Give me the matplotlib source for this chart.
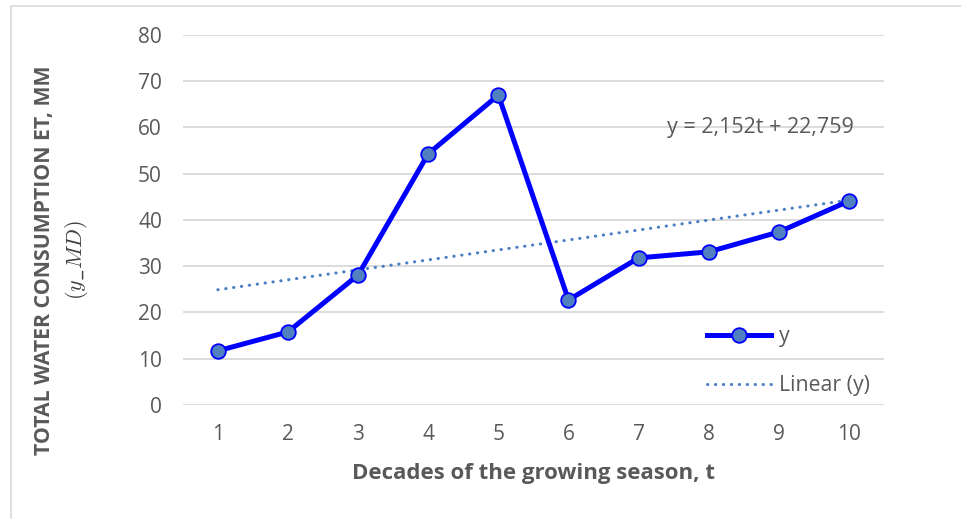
import numpy as np
import matplotlib
matplotlib.use("Agg")
import matplotlib.pyplot as plt
from matplotlib.patches import Rectangle

# decades of the growing season and water consumption
t = [1, 2, 3, 4, 5, 6, 7, 8, 9, 10]
y = [11.7, 15.8, 28.1, 54.3, 67.0, 22.7, 31.8, 33.1, 37.4, 44.1]
yticks = [0, 10, 20, 30, 40, 50, 60, 70, 80]

# linear trend as printed on the chart
trend_slope = 2.152
trend_intercept = 22.759

plt.rcParams['font.family'] = ['Open Sans', 'DejaVu Sans']
plt.rcParams['mathtext.fontset'] = 'cm'
grey = '#595959'

fig = plt.figure(figsize=(9.62, 5.19), dpi=100)
ax = fig.add_axes([0.190, 0.2197, 0.729, 0.713])

# outer chart frame (partly cropped in the original)
fig.patches.append(Rectangle((11 / 962, -0.05), 1.2, 1 - 6 / 519 + 0.05,
                             transform=fig.transFigure, fill=False,
                             edgecolor='#D9D9D9', linewidth=1.2))

ax.plot(t, y, color='#0000FF', linewidth=3.6, marker='o', markersize=10.5,
        markerfacecolor='#5080C0', markeredgecolor='#0000FF',
        markeredgewidth=1.3, label='y', zorder=3)

tt = np.array([t[0], t[-1]])
ax.plot(tt, trend_slope * tt + trend_intercept, color='#4A7EC4',
        linewidth=2.2, linestyle=(0, (0.1, 2.5)), dash_capstyle='round',
        label='Linear (y)', zorder=2)

eq = 'y = {:.3f}t + {:.3f}'.format(trend_slope, trend_intercept).replace('.', ',')
ax.text(8.73, 60, eq, ha='center', va='center', fontsize=15.5, color=grey)

ax.set_xlim(0.5, 10.5)
ax.set_ylim(0, 80)
ax.set_xticks(t)
ax.set_yticks(yticks)
ax.tick_params(axis='both', length=0, labelsize=15, labelcolor=grey)
ax.tick_params(axis='x', pad=14)
ax.tick_params(axis='y', pad=15)
for s in ax.spines.values():
    s.set_visible(False)
ax.grid(axis='y', color='#D9D9D9', linewidth=1.3)
ax.set_axisbelow(True)

ax.set_xlabel('Decades of the growing season, t', fontsize=16,
              fontweight='bold', color=grey, labelpad=13)

fig.text(45 / 962, 1 - 260 / 519, 'TOTAL WATER CONSUMPTION ET, MM',
         rotation=90, ha='center', va='center', fontsize=15.3,
         fontweight='bold', color=grey)
fig.text(77 / 962, 1 - 260 / 519, r'$(y\_MD)$', rotation=90, ha='center',
         va='center', fontsize=16, color='#404040')

ax.legend(loc='upper left', bbox_to_anchor=(0.733, 0.242), frameon=False,
          borderpad=0, fontsize=15.3, labelcolor=grey, handlelength=3.0,
          labelspacing=1.32, handletextpad=0.35)

fig.savefig('out.png', dpi=100)
